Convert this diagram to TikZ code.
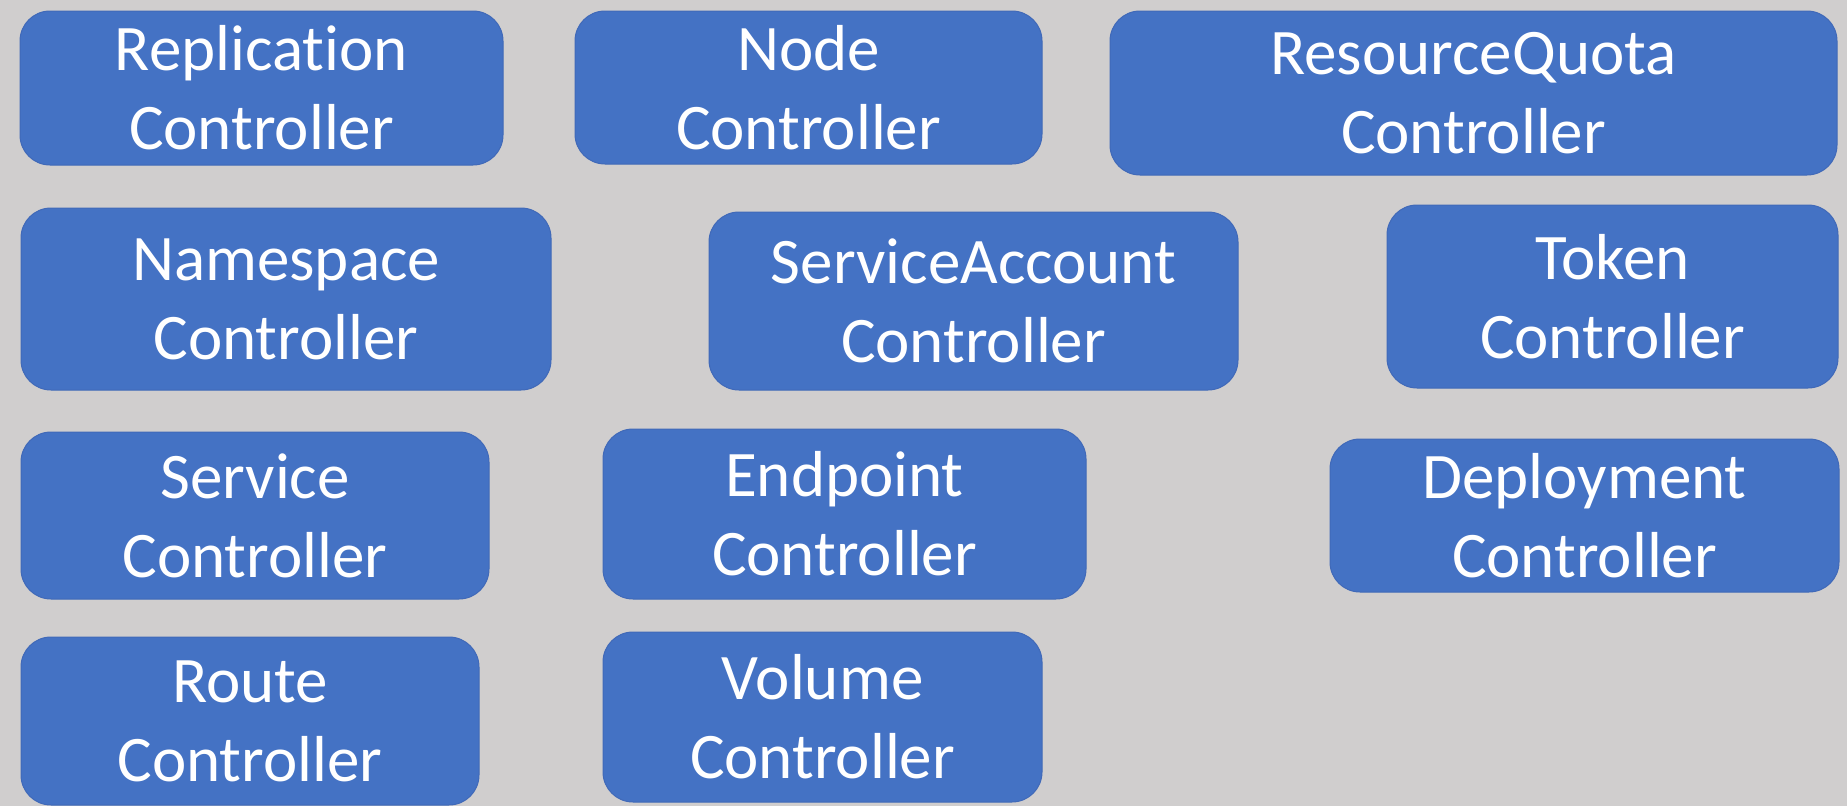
\documentclass[tikz,border=0pt]{standalone}
\usepackage{fontspec}
\setmainfont{Carlito}[Ligatures=NoCommon]
\definecolor{bgcol}{HTML}{D0CECE}
\definecolor{boxblue}{HTML}{4472C4}
\definecolor{boxedge}{HTML}{4069B8}
\begin{document}
\begin{tikzpicture}[x=1pt,y=-1pt,
  ctrl/.style={draw=boxedge, line width=1pt, fill=boxblue, rounded corners=30pt,
    text=white, align=center, inner sep=0pt,
    font=\fontsize{65}{79}\selectfont}]
\fill[bgcol] (0,0) rectangle (1847,806);
\useasboundingbox (0,0) rectangle (1847,806);
% row 1
\node[ctrl, minimum width=483pt, minimum height=154pt] (repl) at (261.5,88) {Replication\\Controller};
\node[ctrl, minimum width=467pt, minimum height=153pt] (nodec) at (808.5,87.5) {Node\\Controller};
\node[ctrl, minimum width=727pt, minimum height=164pt] (quota) at (1473.5,93) {ResourceQuota\\Controller};
% row 2
\node[ctrl, minimum width=530pt, minimum height=182pt] (ns) at (286,299) {Namespace\\Controller};
\node[ctrl, minimum width=529pt, minimum height=178pt] (sa) at (973.5,301) {ServiceAccount\\Controller};
\node[ctrl, minimum width=451pt, minimum height=183pt] (token) at (1612.5,296.5) {Token\\Controller};
% row 3
\node[ctrl, minimum width=468pt, minimum height=167pt] (svc) at (255,515.5) {Service\\Controller};
\node[ctrl, minimum width=483pt, minimum height=170pt] (ep) at (844.5,514) {Endpoint\\Controller};
\node[ctrl, minimum width=509pt, minimum height=153pt] (deploy) at (1584.5,515.5) {Deployment\\Controller};
% row 4
\node[ctrl, minimum width=458pt, minimum height=168pt] (route) at (250,721) {Route\\Controller};
\node[ctrl, minimum width=439pt, minimum height=170pt] (vol) at (822.5,717) {Volume\\Controller};
\end{tikzpicture}
\end{document}
